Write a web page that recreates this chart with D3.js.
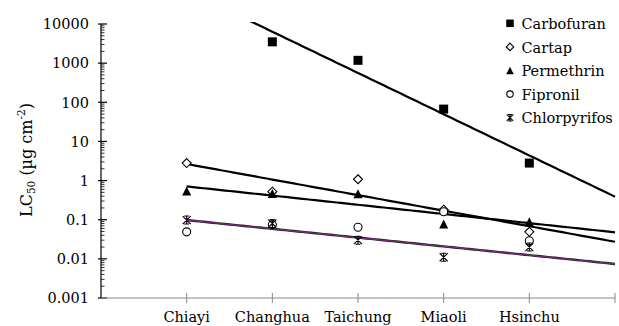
<!DOCTYPE html>
<html><head><meta charset="utf-8">
<script src="https://cdn.jsdelivr.net/npm/d3@7"></script>
<style>body{margin:0;background:#fff}svg{display:block}svg text{font-family:"DejaVu Serif",serif;}</style>
</head><body>
<svg id="c" width="619" height="326"></svg>
<script>
const categories = ["Chiayi","Changhua","Taichung","Miaoli","Hsinchu"];
const carbofuran = [null, 3500, 1180, 67, 2.8];
const cartap = [2.8, 0.52, 1.08, 0.18, 0.049];
const permethrin = [0.54, 0.47, 0.46, 0.078, 0.089];
const fipronil = [0.049, 0.075, 0.064, 0.16, 0.029];
const chlorpyrifos = [0.098, 0.08, 0.030, 0.011, 0.020];
const yTicks = [0.001, 0.01, 0.1, 1, 10, 100, 1000, 10000];
const seriesNames = ["Carbofuran","Cartap","Permethrin","Fipronil","Chlorpyrifos"];
const seriesData = [carbofuran, cartap, permethrin, fipronil, chlorpyrifos];
const seriesMarker = ["square","diamond","triangle","circle","star"];
const trendSeries = ["Carbofuran","Cartap","Permethrin","Chlorpyrifos"];

const svg = d3.select("#c");
const L=101, R=615, T=24, B=298;
const FS=14.5;
const x = d3.scaleLinear().domain([0,6]).range([L,R]);
const y = d3.scaleLog().domain([0.001,10000]).range([B,T]);

function txt(g, s, px, py, anchor){
  return g.append("text").attr("x",px).attr("y",py)
    .attr("text-anchor",anchor).style("font-size",FS+"px").attr("fill","#000").text(s);
}

// y axis
const ya = svg.append("g");
ya.append("line").attr("x1",L).attr("x2",L).attr("y1",T).attr("y2",B).attr("stroke","#000").attr("stroke-width",1.2);
yTicks.forEach(t=>{
  ya.append("line").attr("x1",L-3).attr("x2",L+6).attr("y1",y(t)).attr("y2",y(t)).attr("stroke","#000").attr("stroke-width",1.2);
  txt(ya, String(t), 89, y(t)+5.3, "end");
  if (t<10000) for(let k=2;k<=9;k++){
    ya.append("line").attr("x1",L).attr("x2",L+3.5).attr("y1",y(t*k)).attr("y2",y(t*k)).attr("stroke","#000").attr("stroke-width",0.8);
  }
});
// x axis
const xa = svg.append("g");
xa.append("line").attr("x1",L).attr("x2",R).attr("y1",B).attr("y2",B).attr("stroke","#888").attr("stroke-width",1.2);
d3.range(1,7).forEach(i=>{
  xa.append("line").attr("x1",x(i)).attr("x2",x(i)).attr("y1",B-5).attr("y2",B+5).attr("stroke","#888").attr("stroke-width",1);
});
categories.forEach((c,i)=> txt(xa, c, x(i+1), 322, "middle"));

// y label
const yl = svg.append("text").attr("transform","translate(31.5,160) rotate(-90)").attr("text-anchor","middle").style("font-size","16px").attr("fill","#000");
yl.append("tspan").text("LC");
yl.append("tspan").style("font-size","10.5px").attr("dy",3.5).text("50");
yl.append("tspan").attr("dy",-3.5).text(" (\u00b5g cm");
yl.append("tspan").style("font-size","10.5px").attr("dy",-6.5).text("-2");
yl.append("tspan").attr("dy",6.5).text(")");

// clip
svg.append("clipPath").attr("id","pc").append("rect").attr("x",L).attr("y",T-2).attr("width",R-L+2).attr("height",B-T+2);

// trendlines (exponential fit: log10 v linear in category index)
function fit(arr){
  const pts = arr.map((v,i)=>[i+1,v]).filter(d=>d[1]!=null).map(d=>[d[0],Math.log10(d[1])]);
  const mx=d3.mean(pts,d=>d[0]), my=d3.mean(pts,d=>d[1]);
  const b=d3.sum(pts,d=>(d[0]-mx)*(d[1]-my))/d3.sum(pts,d=>(d[0]-mx)**2);
  return xv=>Math.pow(10, my + b*(xv-mx));
}
const tg = svg.append("g").attr("clip-path","url(#pc)");
trendSeries.forEach(name=>{
  const arr = seriesData[seriesNames.indexOf(name)];
  const f = fit(arr);
  const xs = d3.range(1,6.001,0.05);
  const line = d3.line().x(d=>x(d)).y(d=>y(f(d)));
  if(name==="Chlorpyrifos"){
    tg.append("path").attr("d",line(xs)).attr("fill","none").attr("stroke","#222").attr("stroke-width",2.4);
    tg.append("path").attr("d",line(xs)).attr("fill","none").attr("stroke","#7a2a7a").attr("stroke-width",1.2);
  } else {
    tg.append("path").attr("d",line(xs)).attr("fill","none").attr("stroke","#000").attr("stroke-width",2.2);
  }
});

// markers
function marker(g, type, cx, cy, s){
  if(type==="square") g.append("rect").attr("x",cx-s/2).attr("y",cy-s/2).attr("width",s).attr("height",s).attr("fill","#000");
  else if(type==="diamond") g.append("path").attr("d",`M${cx},${cy-s/2}L${cx+s/2},${cy}L${cx},${cy+s/2}L${cx-s/2},${cy}Z`).attr("fill","#fff").attr("stroke","#000").attr("stroke-width",1.1);
  else if(type==="triangle") g.append("path").attr("d",`M${cx},${cy-s/2}L${cx+s/2},${cy+s/2}L${cx-s/2},${cy+s/2}Z`).attr("fill","#000");
  else if(type==="circle") g.append("circle").attr("cx",cx).attr("cy",cy).attr("r",s/2-0.5).attr("fill","#fff").attr("stroke","#000").attr("stroke-width",1.1);
  else if(type==="star"){
    const h=s/2-0.5;
    g.append("path").attr("d",`M${cx-h},${cy-h}L${cx+h},${cy+h}M${cx+h},${cy-h}L${cx-h},${cy+h}M${cx},${cy-h}L${cx},${cy+h}M${cx-h*0.6},${cy-h}L${cx+h*0.6},${cy-h}M${cx-h*0.6},${cy+h}L${cx+h*0.6},${cy+h}`).attr("stroke","#000").attr("stroke-width",1.1).attr("fill","none");
  }
}
const mg = svg.append("g");
seriesData.forEach((arr,si)=>{
  arr.forEach((v,i)=>{ if(v!=null) marker(mg, seriesMarker[si], x(i+1), y(v), 9); });
});

// legend
const lg = svg.append("g");
seriesNames.forEach((n,i)=>{
  const ly = 23.3 + i*23.6;
  marker(lg, seriesMarker[i], 510, ly, 7.5);
  txt(lg, n, 521.5, ly+5.7, "start");
});
</script>
</body></html>
